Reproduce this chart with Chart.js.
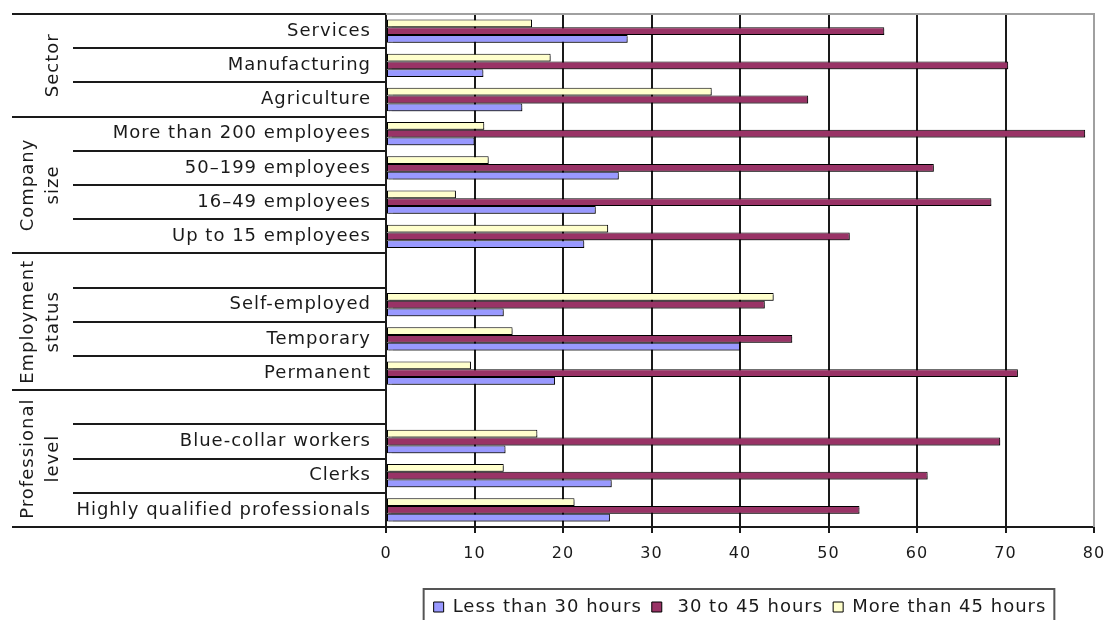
<!DOCTYPE html>
<html>
<head>
<meta charset="utf-8">
<title>Weekly working hours</title>
<script src="https://cdn.jsdelivr.net/npm/chart.js@4.4.1/dist/chart.umd.min.js"></script>
<style>
  html, body { margin: 0; padding: 0; background: #fff; overflow: hidden; }
  #wrap { width: 1107px; height: 626px; position: relative; }
</style>
</head>
<body>
<div id="wrap"><canvas id="hours-chart"></canvas></div>
<script>
// rows top to bottom, blank rows are spacers inside a group
const categories = [
  "Services", "Manufacturing", "Agriculture",
  "More than 200 employees", "50–199 employees", "16–49 employees", "Up to 15 employees",
  "", "Self-employed", "Temporary", "Permanent",
  "", "Blue-collar workers", "Clerks", "Highly qualified professionals"
];

const lessThan30 = [27.3, 11.0, 15.4, 10.0, 26.3, 23.7, 22.4, null, 13.3, 40.0, 19.1, null, 13.5, 25.5, 25.3];
const from30to45 = [56.3, 70.3, 47.7, 79.0, 61.9, 68.4, 52.4, null, 42.8, 45.9, 71.4, null, 69.4, 61.2, 53.5];
const moreThan45 = [16.5, 18.6, 36.8, 11.1, 11.6, 7.9, 25.1, null, 43.8, 14.3, 9.6, null, 17.1, 13.3, 21.3];

const xTicks = [0, 10, 20, 30, 40, 50, 60, 70, 80];

const groupNames = [["Sector"], ["Company", "size"], ["Employment", "status"], ["Professional", "level"]];
const groupSizes = [3, 4, 4, 4];

const FONT = "'DejaVu Sans', Verdana, sans-serif";
const INK = "#1a1a1a";

// wider tracking, like the old Verdana rendering
const spacing = {
  id: "spacing",
  beforeUpdate(chart) { chart.ctx.letterSpacing = "1px"; },
  beforeDraw(chart) { chart.ctx.letterSpacing = "1px"; }
};

// soft drop shadow under the bars
const barShadow = {
  id: "barShadow",
  beforeDatasetsDraw(chart) {
    const c = chart.ctx;
    c.save();
    c.shadowColor = "rgba(0,0,0,0.4)";
    c.shadowOffsetX = 2;
    c.shadowOffsetY = 2;
    c.shadowBlur = 1;
  },
  afterDatasetsDraw(chart) { chart.ctx.restore(); }
};

// plot frame, category table lines, group titles, legend frame
const frame = {
  id: "frame",
  afterDraw(chart) {
    const c = chart.ctx;
    const area = chart.chartArea;
    const y = chart.scales.y;
    const rowH = (area.bottom - area.top) / categories.length;
    const edge = i => y.getPixelForValue(i) - rowH / 2;

    c.save();
    c.strokeStyle = "#a0a0a0";
    c.lineWidth = 2;
    c.beginPath();
    c.moveTo(area.left, area.top);
    c.lineTo(area.right, area.top);
    c.lineTo(area.right, area.bottom);
    c.stroke();

    // row separators; group boundaries run the full width
    const starts = [0];
    groupSizes.forEach(n => starts.push(starts[starts.length - 1] + n));
    c.strokeStyle = INK;
    c.lineWidth = 2;
    for (let i = 0; i <= categories.length; i++) {
      const py = i === categories.length ? area.bottom : edge(i);
      const x0 = starts.includes(i) ? 12 : 73;
      c.beginPath();
      c.moveTo(x0, Math.round(py));
      c.lineTo(area.left, Math.round(py));
      c.stroke();
    }

    // rotated group titles
    c.fillStyle = INK;
    c.font = "18px " + FONT;
    c.textAlign = "center";
    c.textBaseline = "middle";
    groupNames.forEach((lines, g) => {
      const top = edge(starts[g]);
      const bottom = starts[g + 1] === categories.length ? area.bottom : edge(starts[g + 1]);
      const cy = (top + bottom) / 2;
      const xs = lines.length === 1 ? [53] : [28, 53];
      lines.forEach((t, k) => {
        c.save();
        c.translate(xs[k], cy);
        c.rotate(-Math.PI / 2);
        c.fillText(t, 0, 0);
        c.restore();
      });
    });

    // box round the legend
    const boxes = chart.legend.legendHitBoxes;
    if (boxes.length) {
      const l = Math.min(...boxes.map(b => b.left)) - 10;
      const r = Math.max(...boxes.map(b => b.left + b.width)) + 8;
      const t = boxes[0].top - 9;
      c.strokeStyle = "#555";
      c.lineWidth = 2;
      c.strokeRect(l, t, r - l, 60);
    }
    c.restore();
  }
};

new Chart(document.getElementById("hours-chart"), {
  type: "bar",
  data: {
    labels: categories,
    datasets: [
      { label: "More than 45 hours", data: moreThan45, backgroundColor: "#FFFFCC" },
      { label: " 30 to 45 hours", data: from30to45, backgroundColor: "#993366" },
      { label: "Less than 30 hours", data: lessThan30, backgroundColor: "#9999FF" }
    ]
  },
  options: {
    indexAxis: "y",
    responsive: true,
    maintainAspectRatio: false,
    animation: false,
    layout: { padding: { top: 14, right: 13, left: 0, bottom: 0 } },
    datasets: {
      bar: {
        borderColor: "#000",
        borderWidth: 1,
        borderSkipped: false,
        categoryPercentage: 0.68,
        barPercentage: 1.0
      }
    },
    scales: {
      x: {
        min: 0,
        max: 80,
        afterBuildTicks(scale) { scale.ticks = xTicks.map(v => ({ value: v })); },
        afterFit(scale) {
          scale.height = 61;
          scale.paddingLeft = 0;
          scale.paddingRight = 0;
        },
        ticks: { font: { family: FONT, size: 16 }, color: INK, padding: 11 },
        grid: {
          color: ctx => (ctx.tick && ctx.tick.value === 80 ? "#a0a0a0" : INK),
          lineWidth: 2,
          tickLength: 6,
          tickColor: INK
        },
        border: { color: INK, width: 2 }
      },
      y: {
        afterFit(scale) {
          scale.width = 386;
          scale.paddingTop = 0;
          scale.paddingBottom = 0;
        },
        ticks: { font: { family: FONT, size: 18 }, color: INK, padding: 15, autoSkip: false },
        grid: { display: false, drawTicks: false },
        border: { color: INK, width: 2 }
      }
    },
    plugins: {
      legend: {
        position: "bottom",
        fullSize: false,
        reverse: true,
        labels: {
          font: { family: FONT, size: 18 },
          color: INK,
          boxWidth: 10,
          boxHeight: 10,
          padding: 10
        }
      },
      tooltip: { enabled: false }
    }
  },
  plugins: [spacing, barShadow, frame]
});
</script>
</body>
</html>
